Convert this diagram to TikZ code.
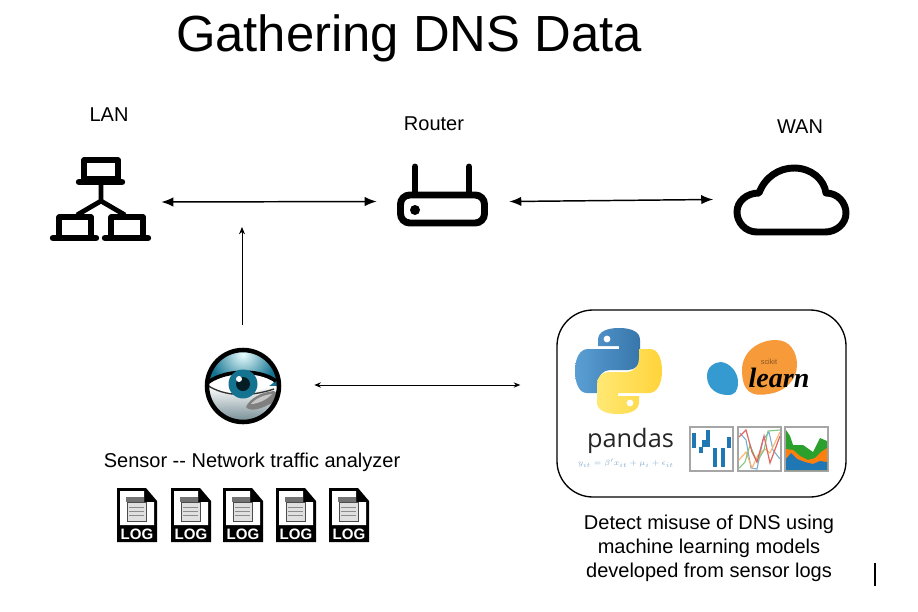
\documentclass[tikz,border=0pt]{standalone}
\usepackage{fontspec}
\setmainfont{Liberation Sans}
\newfontfamily\pandasfont{Open Sans}
\newfontfamily\learnfont{Liberation Serif}
\usetikzlibrary{arrows.meta,calc}
\definecolor{pyblue}{RGB}{55,118,171}
\definecolor{pyblueL}{RGB}{90,159,212}
\definecolor{pyyellow}{RGB}{255,212,59}
\definecolor{pyyellowL}{RGB}{255,232,115}
\definecolor{skorange}{RGB}{247,154,58}
\definecolor{skblue}{RGB}{52,154,208}
\definecolor{mplblue}{RGB}{31,119,180}
\definecolor{mplorange}{RGB}{255,127,14}
\definecolor{mplgreen}{RGB}{44,160,44}
\definecolor{mplred}{RGB}{214,80,70}
\definecolor{eyeteal}{RGB}{20,115,145}
\tikzset{
  x=0.75pt,y=-0.75pt,
  iconbox/.style={inner sep=0pt,minimum width=#1,minimum height=90pt},
  lbl/.style={inner sep=0pt,font=\fontsize{15pt}{18pt}\selectfont,align=center},
  bigarrow/.style={{Latex[length=9pt,width=7pt]}-{Latex[length=9pt,width=7pt]},line width=1.1pt,shorten <=-1.5pt,shorten >=-1.5pt},
  thinarrow/.style={{Stealth[length=5pt,width=4pt]}-{Stealth[length=5pt,width=4pt]},line width=0.65pt},
  uparrow/.style={-{Stealth[length=5.5pt,width=4.5pt]},line width=0.75pt},
  iconline/.style={line width=4pt,line cap=round,line join=round,black},
  chartframe/.style={draw=black!35,line width=1.1pt,fill=white},
  logicon/.pic={
    \fill[black] (0,0) -- (29,0) -- (40,13) -- (40,54) -- (0,54) -- cycle;
    \fill[white] (3,3) -- (27,3) -- (27,14) -- (37,14) -- (37,37) -- (3,37) -- cycle;
    \fill[black!55] (9,9) rectangle (27,14);
    \fill[black!12] (10,14) rectangle (29,33);
    \draw[black!45,line width=0.6pt] (12,19) -- (27,19) (12,23) -- (27,23) (12,27) -- (27,27);
    \draw[black!70,line width=0.6pt] (10,14) rectangle (29,33);
    \node[inner sep=0pt,text=white,font=\bfseries\fontsize{11.3pt}{12pt}\selectfont] at (20,46) {LOG};
  }
}
\begin{document}
\begin{tikzpicture}
\useasboundingbox (0,0) rectangle (918,611);
\fill[white] (0,0) rectangle (918,611);

% Title
\node[inner sep=0pt,font=\fontsize{38.1pt}{42pt}\selectfont] (title) at (409,38) {Gathering DNS Data};

% Labels
\node[lbl] (lanlabel) at (109,115) {LAN};
\node[lbl] (routerlabel) at (434,124) {Router};
\node[lbl] (wanlabel) at (800,127) {WAN};
\node[lbl] (sensorlabel) at (252,462.5) {Sensor -{}- Network traffic analyzer};
\node[lbl] (detectlabel) at (709,548) {Detect misuse of DNS using\\machine learning models\\developed from sensor logs};

% Anchoring nodes for the icons
\node[iconbox=94.5pt] (lan) at (100,202) {};
\node[iconbox=102pt] (router) at (443,201.5) {};
\node[iconbox=118.5pt] (wan) at (790.5,199.5) {};
\node[iconbox=106.5pt,minimum height=90pt] (sensor) at (243,385) {};
\node[draw=black,line width=1pt,rounded corners=27pt,minimum width=216.75pt,minimum height=140.25pt,inner sep=0pt] (hub) at (701.5,403.5) {};
\coordinate (tap) at (242,227);

% LAN icon
\draw[iconline,line width=3.8pt] (84,160) rectangle (118,179);
\draw[iconline,line width=4.8pt] (79,182) -- (122,182);
\draw[iconline,line width=3.6pt,line cap=butt] (101,184) -- (101,201) -- (77,215) (101,201) -- (125,215);
\draw[iconline,line width=3.8pt] (59,217) -- (91,217) -- (91,236) (59,217) -- (59,236);
\draw[iconline,line width=3.8pt] (111,217) -- (143,217) -- (143,236) (111,217) -- (111,236);
\draw[iconline,line width=4.8pt] (53,238) -- (96,238);
\draw[iconline,line width=4.8pt] (105,238) -- (148,238);

% Router icon
\draw[iconline,line width=5.2pt] (415,167) -- (415,192);
\draw[iconline,line width=5.2pt] (469,167) -- (469,192);
\draw[black,line width=5.2pt,rounded corners=7pt] (400.5,195) rectangle (484.5,223);
\fill[black] (415,210) circle[radius=5];

% Cloud icon
\draw[iconline,line width=5.2pt] (757,232) .. controls (745,232) and (737,222) .. (737,212)
  .. controls (737,201) and (747,193) .. (759,193)
  .. controls (765,177) and (779,168) .. (794,168)
  .. controls (811,168) and (824,179) .. (826,193)
  .. controls (838,193) and (846,203) .. (846,213)
  .. controls (846,224) and (836,232) .. (825,232) -- cycle;

% Sensor eye
\begin{scope}
  \begin{scope}
    \clip (243,386) circle[radius=36];
    \fill[eyeteal] (243,386) circle[radius=36];
    \shade[inner color=cyan!8!white,outer color=eyeteal] (243,354) circle[radius=34];
    \shade[top color=white,bottom color=black!55!eyeteal!60] (205,386) rectangle (281,424);
  \end{scope}
  \fill[white] (207,384) .. controls (222,372) and (258,370) .. (274,382) .. controls (262,394) and (228,400) .. (207,384) -- cycle;
  \draw[black,line width=2.8pt] (206,384) .. controls (222,370) and (258,368) .. (276,381);
  \draw[black!80,line width=1pt] (207,385) .. controls (225,397) and (250,397) .. (274,389);
  \fill[eyeteal] (243,384) circle[radius=14.5];
  \fill[black!75!eyeteal] (243,384) circle[radius=7];
  \fill[white] (239,379) circle[radius=3];
  \fill[black!50] (246,407) .. controls (250,398) and (262,392) .. (274,391) .. controls (280,394) and (278,402) .. (268,405) .. controls (260,409) and (250,412) .. (246,407) -- cycle;
  \fill[black!22] (251,404) .. controls (256,398) and (264,395) .. (272,394) .. controls (268,399) and (258,404) .. (251,404) -- cycle;
  \draw[black,line width=3.4pt] (243,386) circle[radius=36];
\end{scope}

% Connectors
\draw[bigarrow] (lan.east) -- (router.west);
\draw[bigarrow] (router.east) -- (wan.west);
\draw[uparrow] (sensor.north -| tap) -- (tap);
\draw[thinarrow,shorten >=27pt] (sensor.east) -- (sensor.east -| hub.west);

% LOG icons
\foreach \lx/\nm in {117/a,171/b,223/c,276/d,329/e}
  \pic (log\nm) at (\lx,488) {logicon};

% Python logo
\def\pyhalf{(598,340) .. controls (598,332) and (606,328) .. (619,328)
   .. controls (632,328) and (640,332) .. (640,340)
   -- (640,358) .. controls (640,365) and (635,370) .. (628,370)
   -- (610,370) .. controls (603,370) and (598,376) .. (598,383)
   -- (598,393) -- (587,393) .. controls (579,393) and (575,383) .. (575,371)
   .. controls (575,358) and (580,349) .. (588,349)
   -- (619,349) -- (619,346) -- (598,346) -- cycle}
\shade[left color=pyblueL,right color=pyblue] \pyhalf;
\fill[white] (607,339) circle[radius=3.4];
\begin{scope}[rotate around={180:(618.5,371)}]
  \shade[left color=pyyellowL,right color=pyyellow] \pyhalf;
  \fill[white] (607,339) circle[radius=3.4];
\end{scope}

% scikit-learn logo
\fill[skorange] (742,370) .. controls (742,352) and (758,340) .. (776,340)
  .. controls (790,340) and (797,352) .. (797,365)
  .. controls (797,380) and (785,392) .. (768,394)
  .. controls (752,397) and (742,392) .. (742,370) -- cycle;
\fill[skblue] (707,376) .. controls (707,367) and (714,362) .. (721,362)
  .. controls (730,363) and (738,372) .. (738,382)
  .. controls (738,391) and (735,395) .. (728,395)
  .. controls (716,395) and (707,388) .. (707,376) -- cycle;
\node[inner sep=0pt,text=black!45!skorange,font=\fontsize{5.5pt}{6pt}\selectfont] (scikit) at (769,362) {scikit};
\node[inner sep=0pt,font=\learnfont\bfseries\itshape\fontsize{21pt}{22pt}\selectfont] (learn) at (779,378) {learn};

% pandas
\node[inner sep=0pt,text=black!85,font=\pandasfont\fontsize{19pt}{20pt}\selectfont] (pandas) at (630.5,441) {pandas};
\node[inner sep=0pt,text=pyblue!60,font=\fontsize{6pt}{7pt}\selectfont] (formula) at (626,463) {$y_{it}=\beta' x_{it}+\mu_i+\epsilon_{it}$};

% Chart 1
\draw[chartframe] (690,427) rectangle (733,471);
\foreach \bx/\ba/\bb in {694/433/448,701/447/453,704/440/447,708/430/447,715/448/467,723/448/467,729/437/448}
  \draw[mplblue,line width=2.4pt] (\bx,\ba) -- (\bx,\bb);

% Chart 2
\draw[chartframe] (738,427) rectangle (781,471);
\begin{scope}
\clip (738,427) rectangle (781,471);
\draw[mplblue!60,line width=0.8pt] (740,433) -- (746,440) -- (751,468) -- (757,469) -- (763,440) -- (769,432) -- (773,450) -- (780,459);
\draw[mplorange!60,line width=0.8pt] (739,460) -- (746,452) -- (752,468) -- (758,455) -- (765,449) -- (770,453) -- (780,432);
\draw[mplgreen!60,line width=0.8pt] (739,468) -- (745,462) -- (750,445) -- (757,462) -- (764,450) -- (768,431) -- (780,430);
\draw[mplred!85,line width=0.9pt] (739,437) -- (746,430) -- (752,452) -- (757,462) -- (764,436) -- (770,463) -- (780,436);
\end{scope}

% Chart 3
\draw[chartframe] (785,427) rectangle (828,471);
\fill[mplgreen] (786,430) -- (790,436) -- (793,445) -- (803,445) -- (813,452) -- (820,438) -- (827,441) -- (827,470) -- (786,470) -- cycle;
\fill[mplorange] (786,449) -- (793,450) -- (800,456) -- (808,460) -- (815,458) -- (821,452) -- (827,448) -- (827,470) -- (786,470) -- cycle;
\fill[mplblue] (786,459) -- (791,453) -- (797,459) -- (805,462) -- (813,464) -- (820,461) -- (827,462) -- (827,470) -- (786,470) -- cycle;

% Text cursor
\draw[black,line width=1.1pt] (875,563) -- (875,586);
\end{tikzpicture}
\end{document}
